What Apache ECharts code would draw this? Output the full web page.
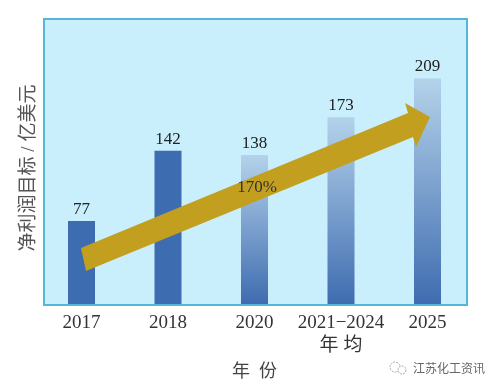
<!DOCTYPE html>
<html>
<head>
<meta charset="utf-8">
<style>
    html, body {margin: 0; padding: 0; background: #fff;}
    #main {width: 500px; height: 390px;}
</style>
<script src="https://cdn.jsdelivr.net/npm/echarts@6/dist/echarts.min.js"></script>
</head>
<body>
<div id="main"></div>
<script>
    // 年份与净利润目标
    var categories = ['2017', '2018', '2020', '2021\u22122024\n年 均', '2025'];
    var profitValues = [77, 142, 138, 173, 209];
    var growthLabel = '170%';

    var serif = '"Liberation Serif", "Noto Sans CJK SC", serif';
    var chart = echarts.init(document.getElementById('main'));

    // 前两根柱子为实色，后面渐变
    function barColor(index) {
        if (index < 2) return '#3d6cb0';
        return new echarts.graphic.LinearGradient(0, 0, 0, 1, [
            {offset: 0, color: '#b4d2ea'},
            {offset: 1, color: '#3f6cb0'}
        ]);
    }

    chart.setOption({
        animation: false,
        grid: {left: 38.25, width: 432.5, top: 18, bottom: 86},
        xAxis: {
            type: 'category',
            data: categories,
            axisLine: {show: false},
            axisTick: {show: false},
            axisLabel: {
                color: '#333',
                fontFamily: serif,
                fontSize: 19,
                lineHeight: 23,
                margin: 8,
                interval: 0,
                verticalAlign: 'top'
            },
            name: '年  份',
            nameLocation: 'middle',
            nameGap: 50,
            nameTextStyle: {
                color: '#444',
                fontFamily: serif,
                fontSize: 18
            }
        },
        yAxis: {
            type: 'value',
            min: 0,
            max: 265,
            axisLine: {show: false},
            axisTick: {show: false},
            axisLabel: {show: false},
            splitLine: {show: false},
            name: '净利润目标 / 亿美元',
            nameLocation: 'middle',
            nameGap: 0,
            nameRotate: 90,
            nameTextStyle: {
                color: '#555',
                fontFamily: serif,
                fontSize: 19,
                padding: [0, 14, 0, 0]
            }
        },
        series: [{
            type: 'bar',
            barWidth: 27,
            data: profitValues.map(function (v, i) {
                return {value: v, itemStyle: {color: barColor(i)}};
            }),
            label: {
                show: true,
                position: 'top',
                distance: 3,
                color: '#222',
                fontFamily: serif,
                fontSize: 17
            }
        }],
        graphic: [
            // 背景框
            {
                type: 'rect',
                z: -10,
                shape: {x: 44, y: 19, width: 423, height: 286},
                style: {fill: '#c9eefc', stroke: '#55b6da', lineWidth: 2}
            },
            // 增长箭头
            {
                type: 'polygon',
                z: 100,
                shape: {
                    points: [[81, 248], [408, 113], [405, 103], [430, 117], [416, 147], [413, 137], [86, 271]]
                },
                style: {fill: '#c29f1f'}
            },
            {
                type: 'text',
                z: 101,
                x: 257,
                y: 188,
                style: {
                    text: growthLabel,
                    fill: '#333',
                    font: '17px ' + serif,
                    align: 'center',
                    verticalAlign: 'middle'
                }
            },
            // 水印
            {
                type: 'circle',
                z: 100,
                shape: {cx: 395, cy: 367, r: 5},
                style: {fill: '#fff', stroke: '#aaa', lineWidth: 1, lineDash: [2, 1]}
            },
            {
                type: 'circle',
                z: 100,
                shape: {cx: 402, cy: 370, r: 4},
                style: {fill: '#fff', stroke: '#aaa', lineWidth: 1, lineDash: [2, 1]}
            },
            {
                type: 'text',
                z: 100,
                x: 413,
                y: 368,
                style: {
                    text: '江苏化工资讯',
                    fill: '#666',
                    font: '12px "Noto Sans CJK SC"',
                    align: 'left',
                    verticalAlign: 'middle'
                }
            }
        ]
    });
</script>
</body>
</html>
